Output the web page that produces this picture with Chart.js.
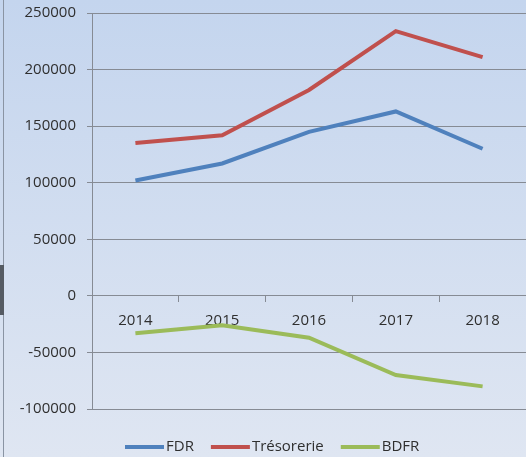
<!DOCTYPE html>
<html>
<head>
<meta charset="utf-8">
<script src="https://cdn.jsdelivr.net/npm/chart.js@4/dist/chart.umd.min.js"></script>
<style>
  html, body { margin: 0; padding: 0; background: #d3def0; }
  #wrap { width: 526px; height: 457px; position: relative; }
</style>
</head>
<body>
<div id="wrap"><canvas id="chart"></canvas></div>
<script>
const years = ["2014", "2015", "2016", "2017", "2018"];
const fdr = [102000, 117000, 145000, 163000, 130000];
const tresorerie = [135000, 142000, 182000, 234000, 211000];
const bdfr = [-33000, -26000, -37000, -70000, -80000];
const yTicks = [-100000, -50000, 0, 50000, 100000, 150000, 200000, 250000];

const FONT = "'Open Sans', sans-serif";
const TEXT = "#2f2f2f";

// background gradient + left frame line
const backdrop = {
    id: "backdrop",
    beforeDraw(chart) {
        const ctx = chart.ctx;
        const g = ctx.createLinearGradient(0, 0, 0, chart.height);
        g.addColorStop(0, "#c4d5ee");
        g.addColorStop(1, "#dfe6f2");
        ctx.save();
        ctx.fillStyle = g;
        ctx.fillRect(0, 0, chart.width, chart.height);
        ctx.fillStyle = "#8a94a3";
        ctx.fillRect(3, 0, 1, chart.height);
        ctx.fillStyle = "#555b63";
        ctx.fillRect(0, 265, 4, 50);
        ctx.restore();
    }
};

// legend drawn by hand, Excel style: long line sample then label
const lineLegend = {
    id: "lineLegend",
    afterDraw(chart) {
        const ctx = chart.ctx;
        ctx.save();
        ctx.font = "15px " + FONT;
        ctx.textBaseline = "middle";
        const y = 447;
        let x = 125;
        chart.data.datasets.forEach(ds => {
            ctx.strokeStyle = ds.borderColor;
            ctx.lineWidth = 4;
            ctx.beginPath();
            ctx.moveTo(x, y);
            ctx.lineTo(x + 39, y);
            ctx.stroke();
            x += 41;
            ctx.fillStyle = TEXT;
            ctx.fillText(ds.label, x, y);
            x += ctx.measureText(ds.label).width + 17;
        });
        ctx.restore();
    }
};

function series(label, data, color) {
    return {
        label: label,
        data: data,
        borderColor: color,
        backgroundColor: color,
        borderWidth: 4,
        pointRadius: 0,
        tension: 0,
        fill: false
    };
}

new Chart(document.getElementById("chart"), {
    type: "line",
    data: {
        labels: years,
        datasets: [
            series("FDR", fdr, "#4f81bd"),
            series("Trésorerie", tresorerie, "#c0504d"),
            series("BDFR", bdfr, "#9bbb59")
        ]
    },
    options: {
        responsive: true,
        maintainAspectRatio: false,
        animation: false,
        layout: { padding: { top: 13, right: 0, left: 0, bottom: 48 } },
        plugins: {
            tooltip: { enabled: false },
            legend: { display: false }
        },
        scales: {
            x: {
                position: { y: 0 },
                offset: true,
                grid: {
                    offset: true,
                    drawOnChartArea: false,
                    drawTicks: true,
                    tickLength: 6,
                    color: "#868b94"
                },
                border: { color: "#868b94" },
                ticks: {
                    padding: 10,
                    color: TEXT,
                    font: { family: FONT, size: 15 }
                }
            },
            y: {
                min: -100000,
                max: 250000,
                afterBuildTicks(axis) {
                    axis.ticks = yTicks.map(v => ({ value: v }));
                },
                afterFit(axis) {
                    axis.width = 92;
                    axis.paddingTop = 0;
                    axis.paddingBottom = 0;
                },
                grid: {
                    color: "#868b94",
                    tickLength: 5
                },
                border: { color: "#868b94" },
                ticks: {
                    padding: 11,
                    color: TEXT,
                    font: { family: FONT, size: 15 },
                    callback: v => String(v)
                }
            }
        }
    },
    plugins: [backdrop, lineLegend]
});
</script>
</body>
</html>
